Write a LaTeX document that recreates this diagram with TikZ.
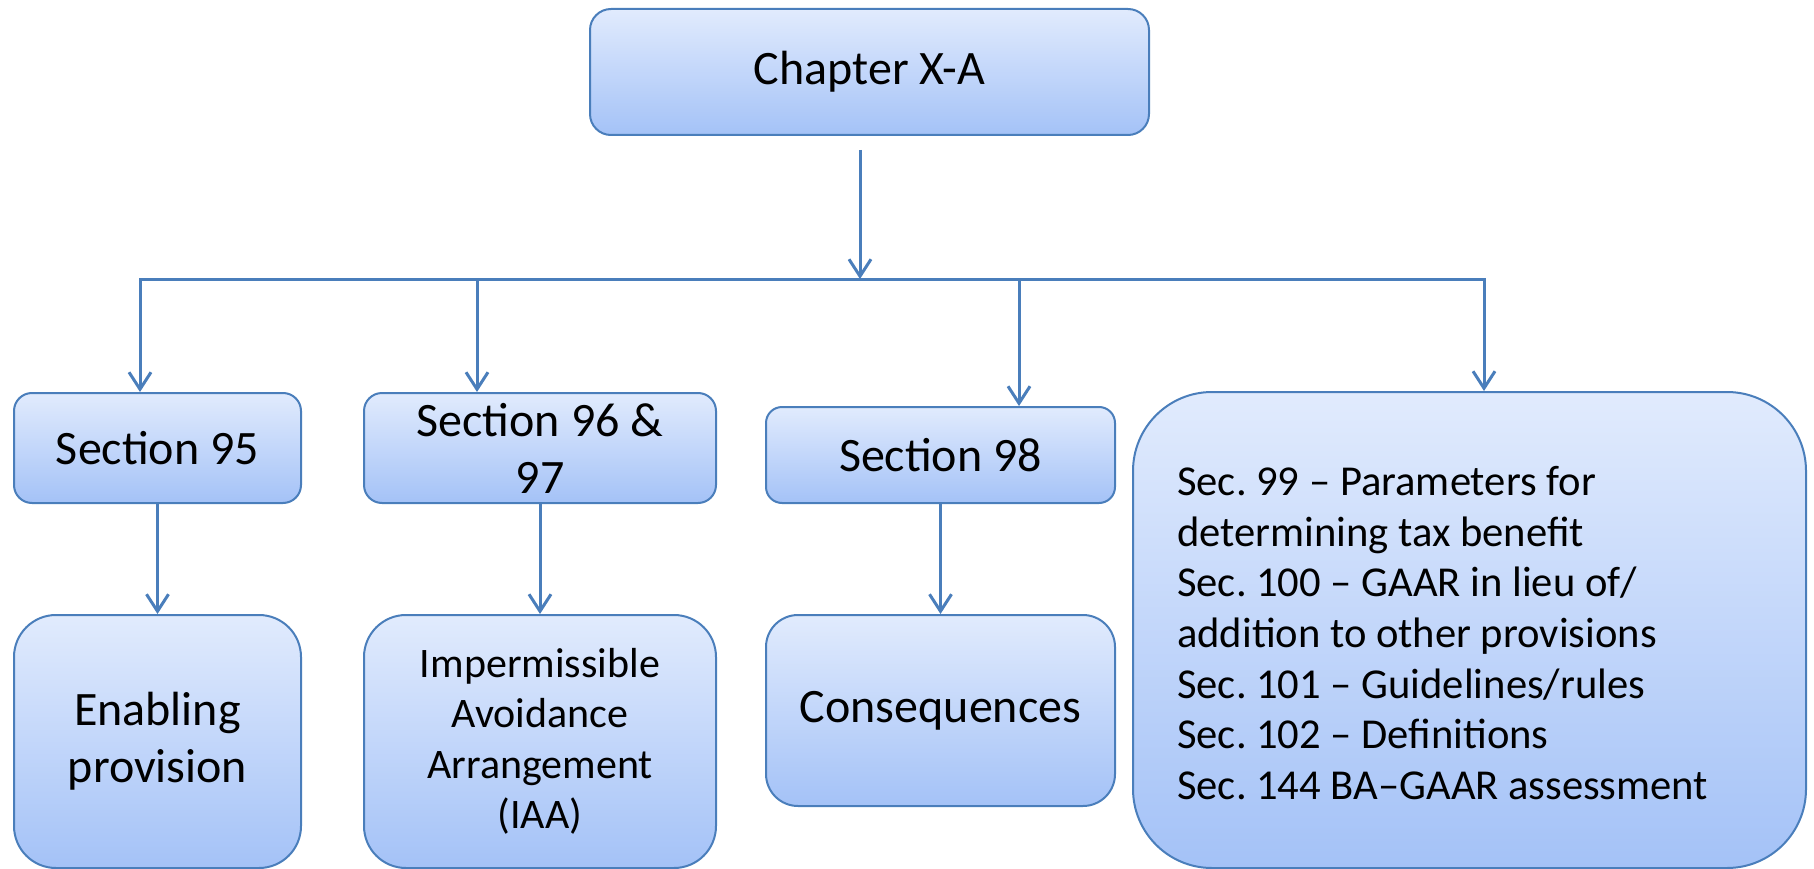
\documentclass[tikz,border=0pt]{standalone}
\usepackage{fontspec}
\setmainfont{Carlito}
\usetikzlibrary{arrows.meta}
\definecolor{boxline}{HTML}{4A7EBB}
\definecolor{boxtop}{HTML}{E1EBFD}
\definecolor{boxbot}{HTML}{A4C2F7}
\frenchspacing
\begin{document}
\begin{tikzpicture}[x=1pt,y=-1pt,
  box/.style={draw=boxline, line width=2pt, top color=boxtop, bottom color=boxbot, inner sep=0pt, align=center, text=black},
  conn/.style={draw=boxline, line width=3pt},
  arr/.style={conn, -{Straight Barb[length=17pt,width=22pt]}},
  bigfont/.style={font=\fontsize{48}{57}\selectfont},
  midfont/.style={font=\fontsize{42}{50.5}\selectfont},
  listfont/.style={font=\fontsize{42.6}{50.7}\selectfont}]
\useasboundingbox (0,0) rectangle (1814,869);

% top
\node[box, bigfont, rounded corners=21pt, minimum width=559pt, minimum height=126pt] (chap) at (869.5,72) {Chapter X-A};

% second row
\node[box, bigfont, rounded corners=18pt, minimum width=287pt, minimum height=110pt] (s95) at (157.5,448) {Section 95};
\node[box, bigfont, rounded corners=18pt, minimum width=352pt, minimum height=110pt] (s96) at (540,448) {Section 96 \&\\97};
\node[box, bigfont, rounded corners=16pt, minimum width=349pt, minimum height=96pt] (s98) at (940.5,455) {Section 98};
\node[box, rounded corners=79pt, minimum width=673pt, minimum height=476pt] (big) at (1469.5,630) {};
\node[listfont, anchor=west, align=left, inner sep=0pt, text=black] (bigtext) at (1177,633)
  {Sec. 99 – Parameters for\\determining tax benefit\\Sec. 100 – GAAR in lieu of/\\addition to other provisions\\Sec. 101 – Guidelines/rules\\Sec. 102 – Definitions\\Sec. 144 BA–GAAR assessment};

% third row
\node[box, bigfont, rounded corners=42pt, minimum width=287pt, minimum height=253pt] (en) at (157.5,741.5) {Enabling\\provision};
\node[box, midfont, rounded corners=42pt, minimum width=352pt, minimum height=253pt] (iaa) at (540,741.5) {Impermissible\\Avoidance\\Arrangement\\(IAA)};
\node[box, bigfont, rounded corners=32pt, minimum width=349pt, minimum height=191pt] (cons) at (940.5,710.5) {Consequences};

% connectors
\coordinate (c0) at (860,150);
\coordinate (cb) at (860,279);
\coordinate (b1) at (140,279);
\coordinate (b2) at (477,279);
\coordinate (b3) at (1019,279);
\coordinate (b4) at (1484,279);

\draw[conn, line cap=rect] (b1) -- (b4);
\draw[arr] (c0) -- (cb);
\draw[arr] (b1) -- (b1 |- s95.north);
\draw[arr] (b2) -- (b2 |- s96.north);
\draw[arr] (b3) -- (b3 |- s98.north);
\draw[arr] (b4) -- (b4 |- big.north);

\draw[arr] (s95.south) -- (en.north);
\draw[arr] (s96.south) -- (iaa.north);
\draw[arr] (s98.south) -- (cons.north);
\end{tikzpicture}
\end{document}
